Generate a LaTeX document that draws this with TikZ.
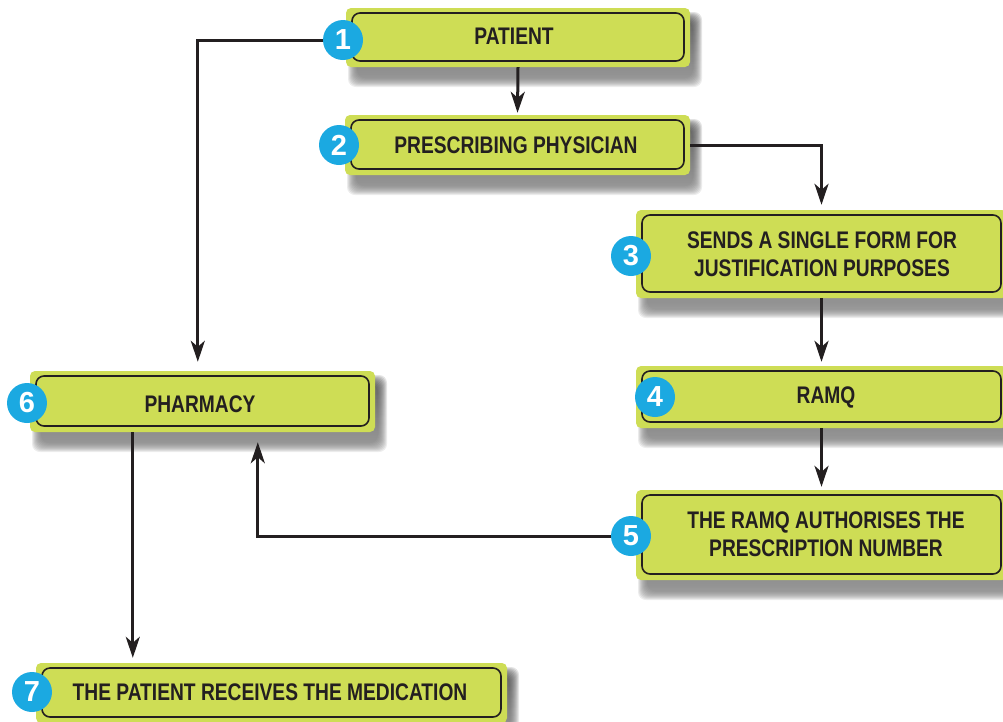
\documentclass[tikz,border=0pt]{standalone}
\usepackage{fontspec}
\setmainfont{Liberation Sans}
\newfontfamily\boxfont{Liberation Sans}[FakeStretch=0.8]
\usetikzlibrary{calc,arrows.meta,fit}
\definecolor{boxgreen}{HTML}{CEDD55}
\definecolor{numcyan}{HTML}{1BA9E1}
\definecolor{ink}{HTML}{231F20}
\definecolor{shade}{HTML}{2A2A38}
\tikzset{
  greenbox/.style={fill=boxgreen, rounded corners=5pt, inner sep=0pt, draw=none},
  innerline/.style={draw=ink, line width=1.6pt, rounded corners=8pt},
  boxtext/.style={text=ink, align=center, font=\boxfont\bfseries\fontsize{24}{28}\selectfont},
  numdot/.style={circle, fill=numcyan, minimum size=40pt, inner sep=0pt, text=white, font=\bfseries\fontsize{29}{29}\selectfont},
  arr/.style={draw=ink, line width=3pt, -{Stealth[length=21pt,width=14pt,inset=6pt]}},
}
\newcommand\flowbox[6]{%
  \foreach \k in {0,...,9}{
    \fill[shade, opacity=0.075, rounded corners=8pt] ({#2+2+\k},{#3+4+\k}) rectangle ({#4+12-\k},{#5+20-\k});
  }
  \node[greenbox, fit={(#2,#3)(#4,#5)}] (#1) {};
  \draw[innerline] ({#2+6},{#3+5}) rectangle ({#4-6},{#5-6});
}
\begin{document}
\begin{tikzpicture}[x=1pt,y=-1pt]
\useasboundingbox[fill=white] (0,0) rectangle (1003,721);
\flowbox{b1}{346}{8}{690}{67}{}
\flowbox{b2}{345}{115}{690}{175}{}
\flowbox{b3}{636}{210}{1007}{298}{}
\flowbox{b4}{636}{366}{1007}{428}{}
\flowbox{b5}{636}{490}{1007}{580}{}
\flowbox{b6}{30}{371}{375}{432}{}
\flowbox{b7}{36}{663}{507}{723}{}
\node[boxtext] (t1) at (514,36) {PATIENT};
\node[boxtext] (t2) at (516,145) {PRESCRIBING PHYSICIAN};
\node[boxtext] (t3) at (822,254) {SENDS A SINGLE FORM FOR\\JUSTIFICATION PURPOSES};
\node[boxtext] (t4) at (826,397) {RAMQ};
\node[boxtext] (t5) at (826,534) {THE RAMQ AUTHORISES THE\\PRESCRIPTION NUMBER};
\node[boxtext] (t6) at (200,404) {PHARMACY};
\node[boxtext] (t7) at (270,692) {THE PATIENT RECEIVES THE MEDICATION};
\node[numdot] (c1) at (343,40) {1};
\node[numdot] (c2) at (339,145) {2};
\node[numdot] (c3) at (631,256) {3};
\node[numdot] (c4) at (655,397) {4};
\node[numdot] (c5) at (631,536) {5};
\node[numdot] (c6) at (27,403) {6};
\node[numdot] (c7) at (32,692) {7};
\draw[arr, shorten >=9pt] (c1.west) -| ($(b6.north west)+(168,0)$);
\draw[arr, shorten >=2pt] (b1.south) -- (b2.north);
\draw[arr, shorten >=5pt] (b2.east) -| (b3.north);
\draw[arr, shorten >=4pt] (b3.south) -- (b4.north);
\draw[arr, shorten >=3pt] (b4.south) -- (b5.north);
\draw[arr, shorten >=10pt] (c5.west) -| ($(b6.south west)+(228,0)$);
\draw[arr, shorten >=5pt] ($(b6.south west)+(103,0)$) -- ($(b7.north west)+(97,0)$);
\end{tikzpicture}
\end{document}
